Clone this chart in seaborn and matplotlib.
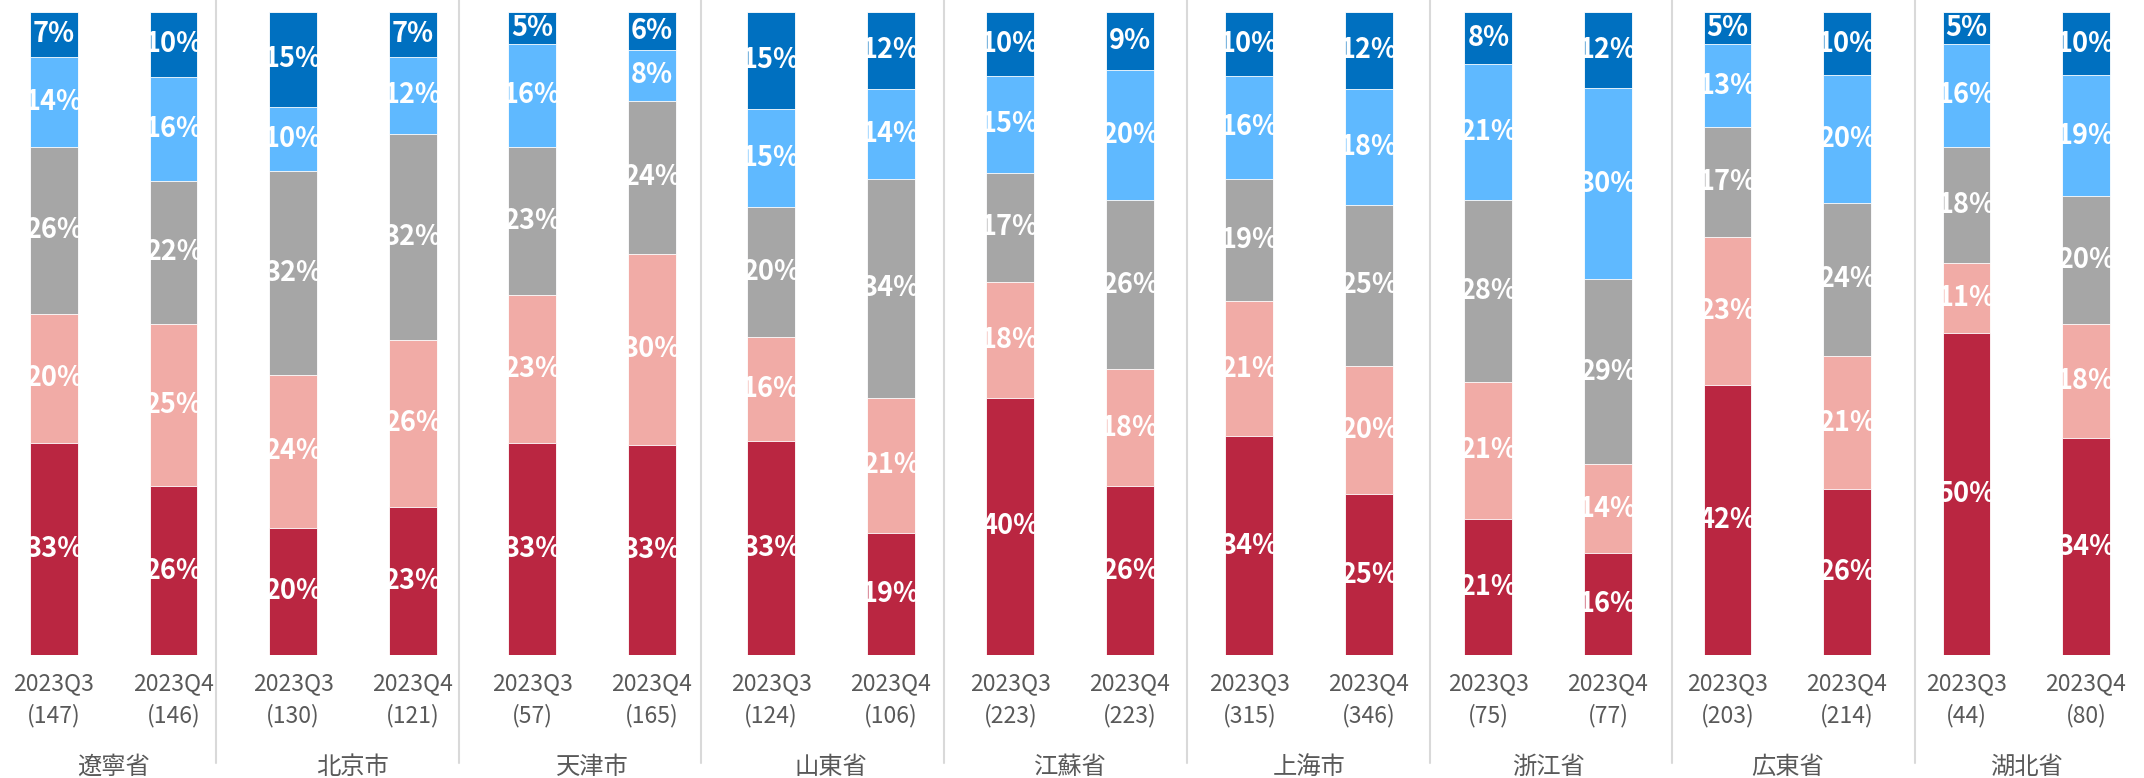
import seaborn as sns
import matplotlib.pyplot as plt
import matplotlib.transforms as mtransforms
from matplotlib.lines import Line2D
import numpy as np
import pandas as pd

provinces = ["遼寧省", "北京市", "天津市", "山東省", "江蘇省", "上海市", "浙江省", "広東省", "湖北省"]
quarters = ["2023Q3", "2023Q4"]
counts = [147, 146, 130, 121, 57, 165, 124, 106, 223, 223, 315, 346, 75, 77, 203, 214, 44, 80]

# segment shares, bottom -> top, one value per bar (Q3, Q4 for each province)
seg1 = [33, 26, 20, 23, 33, 33, 33, 19, 40, 26, 34, 25, 21, 16, 42, 26, 50, 34]
seg2 = [20, 25, 24, 26, 23, 30, 16, 21, 18, 18, 21, 20, 21, 14, 23, 21, 11, 18]
seg3 = [26, 22, 32, 32, 23, 24, 20, 34, 17, 26, 19, 25, 28, 29, 17, 24, 18, 20]
seg4 = [14, 16, 10, 12, 16, 8, 15, 14, 15, 20, 16, 18, 21, 30, 13, 20, 16, 19]
seg5 = [7, 10, 15, 7, 5, 6, 15, 12, 10, 9, 10, 12, 8, 12, 5, 10, 5, 10]

colors = ["#BA2641", "#F1ABA6", "#A6A6A6", "#5FB9FF", "#0070C0"]

segs = np.array([seg1, seg2, seg3, seg4, seg5], dtype=float)
shares = segs / segs.sum(axis=0) * 100
cum = np.cumsum(shares, axis=0)
n = segs.shape[1]

sns.set_theme(style="white")
plt.rcParams['font.family'] = ['Noto Sans CJK JP', 'DejaVu Sans']

W, H = 2144, 778
fig = plt.figure(figsize=(W / 100, H / 100), dpi=100)
ax = fig.add_axes([0.0, 0.158, 1.0, 0.827])

# draw cumulative bars from top down so they stack
for k in range(4, -1, -1):
    df = pd.DataFrame({"slot": np.arange(n), "val": cum[k]})
    sns.barplot(data=df, x="slot", y="val", color=colors[k], width=0.4,
                saturation=1, edgecolor="white", linewidth=0.6, ax=ax)

for i in range(n):
    for k in range(5):
        mid = cum[k, i] - shares[k, i] / 2
        ax.text(i, mid, f"{int(segs[k, i])}%", ha="center", va="center",
                color="white", fontsize=19.5, fontweight="bold")

ax.set_xlim(-0.452, 17.485)
ax.set_ylim(0, 100)
ax.axis("off")

trans = mtransforms.blended_transform_factory(ax.transData, fig.transFigure)
for i in range(n):
    ax.text(i, 1 - 684 / H, quarters[i % 2], transform=trans, ha="center", va="center",
            fontsize=16.5, color="#595959")
    ax.text(i, 1 - 716 / H, f"({counts[i]})", transform=trans, ha="center", va="center",
            fontsize=16.5, color="#595959")
for g, name in enumerate(provinces):
    ax.text(2 * g + 0.5, 1 - 767 / H, name, transform=trans, ha="center", va="center",
            fontsize=17.5, color="#595959")

# group separators (figure coords)
for g in range(8):
    xs = (216 + g * 242.7) / W
    fig.add_artist(Line2D([xs, xs], [1.0, 1 - 763 / H], transform=fig.transFigure,
                          color="#D9D9D9", linewidth=1.5))

fig.savefig("out.png", dpi=100)
